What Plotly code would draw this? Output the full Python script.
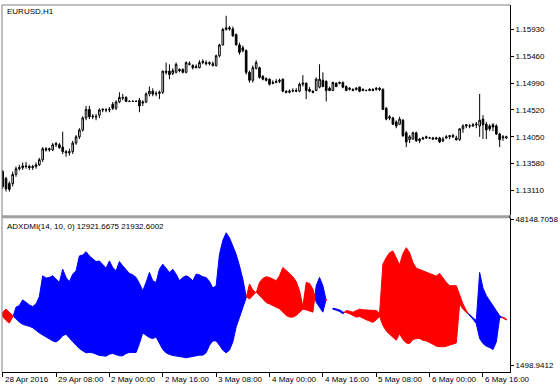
import plotly.graph_objects as go

# ---------------- data ----------------
bar_index = list(range(152))
x_tick_index = [0, 16, 32, 48, 64, 80, 96, 112, 128, 144]
x_tick_labels = ["28 Apr 2016", "29 Apr 08:00", "2 May 00:00", "2 May 16:00", "3 May 08:00",
                 "4 May 00:00", "4 May 16:00", "5 May 08:00", "6 May 00:00", "6 May 16:00"]
price_ticks = [1.13110, 1.13580, 1.14050, 1.14520, 1.14990, 1.15460, 1.15930]
ind_ticks = [1498.9412, 48148.7058]
ind_tick_labels = ["1498.9412", "48148.7058"]

open_ = [
    1.1344, 1.1332, 1.1323, 1.1323, 1.1339, 1.1349, 1.1351, 1.1354, 1.1353, 1.1351,
    1.1353, 1.1356, 1.1365, 1.1384, 1.1382, 1.1382, 1.1391, 1.1391, 1.1387, 1.1379,
    1.1377, 1.1379, 1.1394, 1.1405, 1.1417, 1.1438, 1.1453, 1.1440, 1.1441, 1.1443,
    1.1452, 1.1452, 1.1452, 1.1462, 1.1455, 1.1466, 1.1474, 1.1474, 1.1467, 1.1467,
    1.1467, 1.1469, 1.1464, 1.1466, 1.1480, 1.1485, 1.1480, 1.1481, 1.1483, 1.1520,
    1.1520, 1.1516, 1.1518, 1.1523, 1.1523, 1.1518, 1.1533, 1.1530, 1.1526, 1.1526,
    1.1535, 1.1535, 1.1533, 1.1533, 1.1530, 1.1547, 1.1566, 1.1593, 1.1596, 1.1594,
    1.1584, 1.1566, 1.1561, 1.1556, 1.1518, 1.1504, 1.1525, 1.1526, 1.1511, 1.1507,
    1.1506, 1.1500, 1.1500, 1.1502, 1.1506, 1.1485, 1.1483, 1.1485, 1.1486, 1.1485,
    1.1497, 1.1499, 1.1488, 1.1485, 1.1486, 1.1492, 1.1504, 1.1502, 1.1490, 1.1486,
    1.1499, 1.1500, 1.1500, 1.1493, 1.1488, 1.1488, 1.1488, 1.1492, 1.1486, 1.1486,
    1.1486, 1.1488, 1.1488, 1.1490, 1.1488, 1.1455, 1.1440, 1.1438, 1.1431, 1.1427,
    1.1434, 1.1412, 1.1400, 1.1401, 1.1412, 1.1398, 1.1401, 1.1403, 1.1403, 1.1403,
    1.1401, 1.1403, 1.1398, 1.1403, 1.1405, 1.1405, 1.1403, 1.1400, 1.1419, 1.1424,
    1.1424, 1.1424, 1.1426, 1.1424, 1.1436, 1.1427, 1.1424, 1.1426, 1.1424, 1.1410,
    1.1403, 1.1403]
high = [
    1.1347, 1.1335, 1.1327, 1.1344, 1.1353, 1.1356, 1.1360, 1.1361, 1.1356, 1.1356,
    1.1360, 1.1368, 1.1387, 1.1387, 1.1386, 1.1394, 1.1396, 1.1394, 1.1414, 1.1382,
    1.1384, 1.1398, 1.1408, 1.1420, 1.1441, 1.1459, 1.1459, 1.1445, 1.1445, 1.1455,
    1.1455, 1.1455, 1.1457, 1.1466, 1.1469, 1.1483, 1.1480, 1.1476, 1.1469, 1.1469,
    1.1469, 1.1473, 1.1469, 1.1483, 1.1493, 1.1490, 1.1485, 1.1486, 1.1521, 1.1535,
    1.1532, 1.1525, 1.1535, 1.1525, 1.1525, 1.1537, 1.1537, 1.1532, 1.1532, 1.1539,
    1.1541, 1.1539, 1.1537, 1.1537, 1.1549, 1.1568, 1.1596, 1.1617, 1.1599, 1.1598,
    1.1586, 1.1570, 1.1565, 1.1558, 1.1521, 1.1530, 1.1539, 1.1528, 1.1513, 1.1509,
    1.1507, 1.1504, 1.1506, 1.1507, 1.1507, 1.1486, 1.1488, 1.1490, 1.1490, 1.1500,
    1.1513, 1.1500, 1.1492, 1.1486, 1.1509, 1.1532, 1.1518, 1.1504, 1.1493, 1.1502,
    1.1500, 1.1502, 1.1502, 1.1495, 1.1492, 1.1490, 1.1492, 1.1493, 1.1490, 1.1488,
    1.1490, 1.1490, 1.1492, 1.1492, 1.1490, 1.1457, 1.1443, 1.1440, 1.1434, 1.1440,
    1.1436, 1.1415, 1.1408, 1.1414, 1.1414, 1.1403, 1.1405, 1.1407, 1.1405, 1.1405,
    1.1405, 1.1405, 1.1405, 1.1408, 1.1408, 1.1410, 1.1407, 1.1420, 1.1427, 1.1427,
    1.1427, 1.1429, 1.1431, 1.1480, 1.1443, 1.1431, 1.1427, 1.1429, 1.1427, 1.1412,
    1.1408, 1.1407]
low = [
    1.1314, 1.1309, 1.1309, 1.1318, 1.1335, 1.1346, 1.1347, 1.1349, 1.1347, 1.1347,
    1.1349, 1.1354, 1.1361, 1.1379, 1.1379, 1.1380, 1.1387, 1.1384, 1.1375, 1.1370,
    1.1372, 1.1375, 1.1391, 1.1401, 1.1414, 1.1434, 1.1436, 1.1436, 1.1434, 1.1438,
    1.1448, 1.1448, 1.1448, 1.1452, 1.1452, 1.1464, 1.1469, 1.1466, 1.1466, 1.1466,
    1.1466, 1.1448, 1.1459, 1.1464, 1.1476, 1.1476, 1.1476, 1.1471, 1.1480, 1.1514,
    1.1506, 1.1513, 1.1516, 1.1518, 1.1516, 1.1516, 1.1530, 1.1523, 1.1525, 1.1525,
    1.1532, 1.1530, 1.1530, 1.1528, 1.1528, 1.1544, 1.1565, 1.1591, 1.1591, 1.1580,
    1.1565, 1.1549, 1.1553, 1.1514, 1.1500, 1.1500, 1.1523, 1.1507, 1.1504, 1.1502,
    1.1495, 1.1497, 1.1499, 1.1499, 1.1483, 1.1481, 1.1481, 1.1483, 1.1483, 1.1483,
    1.1493, 1.1471, 1.1483, 1.1481, 1.1485, 1.1490, 1.1492, 1.1467, 1.1485, 1.1485,
    1.1492, 1.1497, 1.1490, 1.1485, 1.1486, 1.1485, 1.1486, 1.1483, 1.1485, 1.1485,
    1.1485, 1.1485, 1.1486, 1.1485, 1.1452, 1.1434, 1.1434, 1.1426, 1.1420, 1.1426,
    1.1405, 1.1387, 1.1394, 1.1400, 1.1396, 1.1394, 1.1400, 1.1401, 1.1401, 1.1400,
    1.1400, 1.1394, 1.1396, 1.1401, 1.1401, 1.1403, 1.1398, 1.1398, 1.1412, 1.1420,
    1.1420, 1.1422, 1.1420, 1.1405, 1.1401, 1.1401, 1.1415, 1.1415, 1.1408, 1.1387,
    1.1398, 1.1401]
close = [
    1.1318, 1.1314, 1.1313, 1.1339, 1.1349, 1.1351, 1.1354, 1.1353, 1.1351, 1.1353,
    1.1356, 1.1365, 1.1384, 1.1382, 1.1384, 1.1391, 1.1393, 1.1386, 1.1379, 1.1377,
    1.1379, 1.1394, 1.1405, 1.1417, 1.1438, 1.1453, 1.1440, 1.1441, 1.1440, 1.1452,
    1.1453, 1.1452, 1.1453, 1.1455, 1.1466, 1.1474, 1.1473, 1.1467, 1.1467, 1.1467,
    1.1467, 1.1459, 1.1466, 1.1480, 1.1485, 1.1480, 1.1481, 1.1483, 1.1520, 1.1518,
    1.1514, 1.1521, 1.1532, 1.1521, 1.1518, 1.1535, 1.1532, 1.1526, 1.1528, 1.1535,
    1.1537, 1.1533, 1.1535, 1.1530, 1.1547, 1.1566, 1.1593, 1.1596, 1.1594, 1.1582,
    1.1566, 1.1553, 1.1556, 1.1518, 1.1504, 1.1526, 1.1535, 1.1509, 1.1506, 1.1504,
    1.1497, 1.1499, 1.1502, 1.1504, 1.1485, 1.1483, 1.1485, 1.1486, 1.1485, 1.1497,
    1.1499, 1.1486, 1.1485, 1.1483, 1.1506, 1.1506, 1.1493, 1.1486, 1.1486, 1.1500,
    1.1493, 1.1499, 1.1492, 1.1486, 1.1490, 1.1486, 1.1490, 1.1485, 1.1488, 1.1486,
    1.1488, 1.1486, 1.1490, 1.1488, 1.1453, 1.1436, 1.1438, 1.1427, 1.1424, 1.1436,
    1.1407, 1.1396, 1.1405, 1.1412, 1.1398, 1.1401, 1.1403, 1.1405, 1.1403, 1.1401,
    1.1403, 1.1396, 1.1401, 1.1405, 1.1407, 1.1407, 1.1400, 1.1419, 1.1424, 1.1426,
    1.1424, 1.1426, 1.1427, 1.1434, 1.1426, 1.1417, 1.1419, 1.1422, 1.1410, 1.1400,
    1.1405, 1.1405]

# ADXDMI two lines (blue fill where line_a > line_b, red otherwise)
line_a = [
    17050, 15780, 14934, 16626, 20011, 20540, 22338, 21598, 20752, 20223,
    21069, 23396, 30060, 29320, 29532, 30060, 29003, 27945, 32176, 29532,
    28156, 30589, 31647, 36408, 36724, 37782, 36408, 35350, 34609, 34821,
    33763, 32493, 34821, 32705, 31647, 34609, 33234, 31858, 30801, 30378,
    29532, 27627, 25300, 27945, 31118, 28474, 27945, 32176, 33763, 32493,
    31118, 32176, 30589, 28474, 29532, 30060, 29532, 28474, 30589, 30378,
    29743, 29532, 28262, 26147, 26887, 36936, 41379, 43812, 42225, 39581,
    36936, 33234, 29003, 23396, 22656, 23713, 24877, 23713, 22338, 21492,
    21069, 20540, 20011, 19482, 18425, 17367, 16838, 16838, 17367, 18425,
    19377, 19165, 18742, 18425, 26887, 29532, 26887, 22127, None, 19694,
    19482, 19165, 18425, 18319, 17896, 17261, 16838, 17050, 16415, 15992,
    15569, 15146, 15992, 17050, 14193, 12395, 11337, 10280, 9433, 11549,
    9645, 8587, 8376, 9645, 9962, 9962, 9433, 9222, 8799, 8164,
    7529, 7318, 7318, 7529, 7846, 8164, 8587, 21069, 19377, 18319,
    17684, 16626, 15780, 31118, 26147, 23713, 22127, 20858, 19165, 17261,
    16521, 15886]
line_b = [
    18425, 19377, 18425, 17367, 16309, 15251, 14511, 14193, 13876, 13453,
    12607, 11761, 10914, 10491, 9857, 9222, 8904, 9645, 10914, 11337,
    10280, 8904, 7846, 6789, 6048, 5414, 5519, 5414, 4991, 4568,
    4462, 4356, 4991, 5202, 4779, 4462, 4462, 5202, 5519, 5519,
    5519, 8376, 11761, 11020, 10280, 9962, 10491, 8376, 6471, 5414,
    4885, 4568, 4462, 4144, 4039, 3827, 3827, 4144, 4462, 4673,
    4673, 5414, 7846, 9222, 9222, 7846, 6260, 5414, 6260, 8904,
    13664, 16838, 20011, 22973, 27416, 25512, 24560, 27945, 29214, 29743,
    29532, 29003, 28474, 30060, 32705, 31858, 30801, 29743, 28262, 25300,
    20223, 27945, 27627, 25829, 21598, 20011, 18425, 22656, None, 19377,
    19059, 18636, 17896, 18954, 18742, 18425, 18954, 19377, 19165, 18954,
    18954, 18954, 18954, 18107, 33763, 35879, 37465, 37994, 35879, 33551,
    37148, 39052, 37465, 34292, 32493, 31858, 31436, 31013, 30589, 30378,
    29955, 30801, 29532, 27945, 26887, 26887, 26887, 24031, 21069, 18954,
    17261, 16203, 14722, 9962, 8376, 7529, 7106, 6471, 8904, 16626,
    16838, 16203]

# ---------------- build fill polygons ----------------
def build_polys(a, b):
    out = {"b": ([], []), "r": ([], [])}

    def flush(col, top, bot):
        if len(top) < 2:
            return
        xs = [p[0] for p in top] + [p[0] for p in reversed(bot)]
        ys = [p[1] for p in top] + [p[1] for p in reversed(bot)]
        tx, ty = out[col]
        tx.extend(xs + [xs[0], None])
        ty.extend(ys + [ys[0], None])

    cur, top, bot = None, [], []
    for i in range(len(a)):
        if a[i] is None or b[i] is None:
            if cur:
                flush(cur, top, bot)
            cur, top, bot = None, [], []
            continue
        col = "b" if a[i] >= b[i] else "r"
        if cur is None:
            cur, top, bot = col, [(i, a[i])], [(i, b[i])]
            continue
        if col == cur:
            top.append((i, a[i]))
            bot.append((i, b[i]))
        else:
            d0 = a[i - 1] - b[i - 1]
            d1 = a[i] - b[i]
            t = d0 / (d0 - d1)
            xc = i - 1 + t
            yc = a[i - 1] + t * (a[i] - a[i - 1])
            top.append((xc, yc))
            bot.append((xc, yc))
            flush(cur, top, bot)
            cur, top, bot = col, [(xc, yc), (i, a[i])], [(xc, yc), (i, b[i])]
    if cur:
        flush(cur, top, bot)
    return out

polys = build_polys(line_a, line_b)

FONT = "Liberation Sans"

fig = go.Figure()
fig.add_trace(go.Candlestick(
    x=bar_index, open=open_, high=high, low=low, close=close,
    increasing=dict(line=dict(color="black", width=1), fillcolor="white"),
    decreasing=dict(line=dict(color="black", width=1), fillcolor="black"),
    whiskerwidth=0, xaxis="x", yaxis="y", showlegend=False, hoverinfo="skip"))

for col, color in (("b", "#0000FF"), ("r", "#FF0000")):
    xs, ys = polys[col]
    fig.add_trace(go.Scatter(
        x=xs, y=ys, mode="lines", fill="toself", fillcolor=color,
        line=dict(color=color, width=1), xaxis="x2", yaxis="y2",
        showlegend=False, hoverinfo="skip"))

# pixel geometry: plot area x 2..516, y 2..372
top_dom = [158 / 370, 1.0]
bot_dom = [0.0, 155 / 370]
xr = [-0.2, 152.1]

axis_common = dict(showgrid=False, zeroline=False, tickfont=dict(family=FONT, size=8, color="black"))

fig.update_layout(
    width=560, height=388,
    margin=dict(l=2, r=44, t=2, b=16),
    paper_bgcolor="white", plot_bgcolor="white",
    showlegend=False,
    xaxis=dict(domain=[0, 1], range=xr, anchor="y", showticklabels=False, ticks="",
               rangeslider=dict(visible=False), showline=False, **axis_common),
    yaxis=dict(domain=top_dom, range=[1.12675, 1.16359], side="right", anchor="x",
               tickvals=price_ticks, ticktext=[f"{v:.5f}" for v in price_ticks],
               ticks="outside", ticklen=3, tickcolor="black", showline=True,
               linecolor="black", linewidth=1, **axis_common),
    xaxis2=dict(domain=[0, 1], range=xr, anchor="y2", showticklabels=False,
                tickvals=x_tick_index, ticks="outside", ticklen=4, tickcolor="black",
                showline=True, linecolor="black", linewidth=1, **axis_common),
    yaxis2=dict(domain=bot_dom, range=[-723, 48466], side="right", anchor="x2",
                tickvals=ind_ticks, ticktext=ind_tick_labels,
                ticks="outside", ticklen=3, tickcolor="black", showline=True,
                linecolor="black", linewidth=1, **axis_common),
)

shapes = [
    # left border
    dict(type="line", xref="paper", yref="paper", x0=0, x1=0, y0=0, y1=1,
         line=dict(color="#808080", width=1)),
    # top border
    dict(type="line", xref="paper", yref="paper", x0=0, x1=1, y0=1, y1=1,
         line=dict(color="#808080", width=1)),
    # separator between panels
    dict(type="rect", xref="paper", yref="paper", x0=0, x1=1,
         y0=bot_dom[1], y1=top_dom[0], fillcolor="#a0a0a0", line=dict(width=0)),
    dict(type="line", xref="paper", yref="paper", x0=1, x1=1,
         y0=bot_dom[1], y1=top_dom[0], line=dict(color="black", width=1)),
]
fig.update_layout(shapes=shapes)

annotations = [
    dict(text="EURUSD,H1", xref="paper", yref="paper", x=3 / 514, y=(372 - 8.5) / 370,
         xanchor="left", yanchor="middle", showarrow=False,
         font=dict(family=FONT, size=8, color="black")),
    dict(text="ADXDMI(14, 10, 0) 12921.6675 21932.6002", xref="paper", yref="paper",
         x=3 / 514, y=(372 - 225) / 370, xanchor="left", yanchor="middle", showarrow=False,
         font=dict(family=FONT, size=8, color="black")),
]
for xi, lab in zip(x_tick_index, x_tick_labels):
    annotations.append(dict(text=lab, xref="x2", yref="paper", x=xi, y=(372 - 379.5) / 370,
                            xanchor="left", yanchor="middle", showarrow=False,
                            font=dict(family=FONT, size=8, color="black")))
fig.update_layout(annotations=annotations)

fig.write_html("out.html")
